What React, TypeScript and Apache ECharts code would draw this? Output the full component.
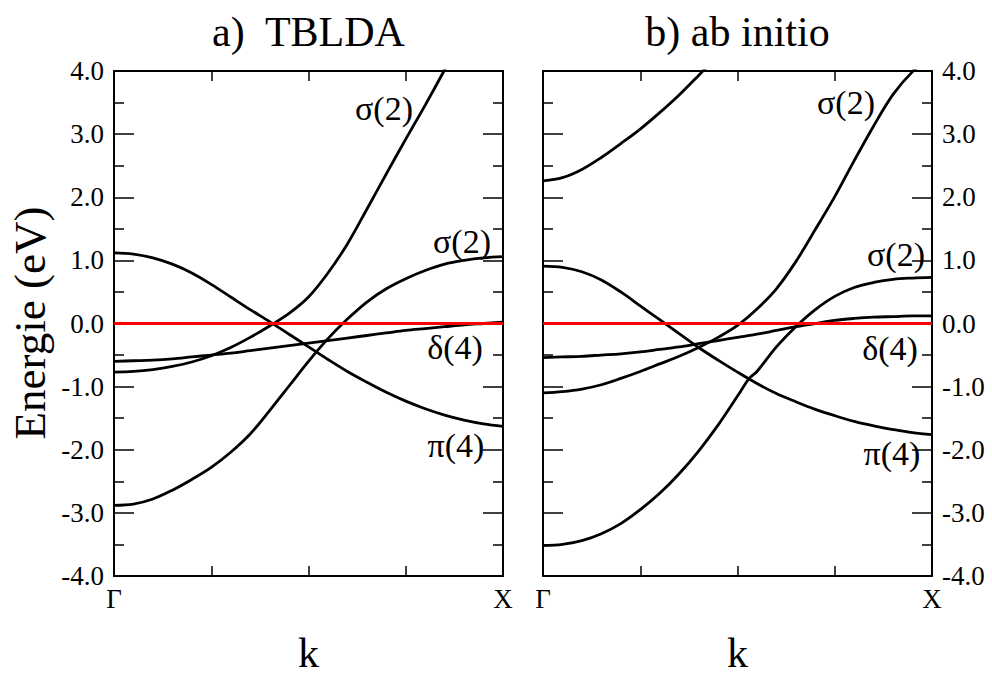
import React, { useEffect, useRef } from 'react';
import * as echarts from 'echarts';

// ---- Data (k along Γ→X, 0..1; energy in eV) ----
const panelTitles = ['a)\u00A0 TBLDA', 'b) ab initio'];
const kEdgeLabels = ['Γ', 'X'];
const energyRange = [-4, 4];

// a) TBLDA bands
const tbSigmaUpper = [
  [0, -0.77], [0.05, -0.76], [0.1, -0.73], [0.15, -0.68], [0.2, -0.61], [0.25, -0.51],
  [0.3, -0.38], [0.35, -0.22], [0.4, -0.04], [0.45, 0.16], [0.5, 0.42], [0.55, 0.8],
  [0.6, 1.26], [0.65, 1.81], [0.7, 2.37], [0.75, 2.92], [0.8, 3.46], [0.85, 4.02], [0.9, 4.6],
];
const tbSigmaLower = [
  [0, -2.88], [0.05, -2.86], [0.1, -2.78], [0.15, -2.64], [0.2, -2.47], [0.25, -2.28],
  [0.3, -2.04], [0.35, -1.75], [0.4, -1.38], [0.45, -0.99], [0.5, -0.6], [0.55, -0.24],
  [0.6, 0.07], [0.65, 0.34], [0.7, 0.55], [0.75, 0.71], [0.8, 0.84], [0.85, 0.94],
  [0.9, 1.0], [0.95, 1.04], [1, 1.06],
];
const tbDelta = [
  [0, -0.6], [0.05, -0.59], [0.1, -0.58], [0.15, -0.56], [0.2, -0.53], [0.25, -0.5],
  [0.3, -0.47], [0.35, -0.43], [0.4, -0.39], [0.45, -0.35], [0.5, -0.31], [0.55, -0.27],
  [0.6, -0.23], [0.65, -0.19], [0.7, -0.15], [0.75, -0.11], [0.8, -0.08], [0.85, -0.05],
  [0.9, -0.02], [0.95, 0.0], [1, 0.02],
];
const tbPi = [
  [0, 1.12], [0.05, 1.1], [0.1, 1.04], [0.15, 0.94], [0.2, 0.8], [0.25, 0.62],
  [0.3, 0.42], [0.35, 0.22], [0.4, 0.03], [0.45, -0.17], [0.5, -0.37], [0.55, -0.57],
  [0.6, -0.76], [0.65, -0.93], [0.7, -1.09], [0.75, -1.23], [0.8, -1.35], [0.85, -1.45],
  [0.9, -1.53], [0.95, -1.59], [1, -1.63],
];

// b) ab initio bands
const aiTop = [
  [0, 2.26], [0.05, 2.31], [0.1, 2.44], [0.15, 2.63], [0.2, 2.85], [0.25, 3.08],
  [0.3, 3.34], [0.35, 3.62], [0.4, 3.93], [0.45, 4.25],
];
const aiSigmaUpper = [
  [0, -1.1], [0.05, -1.08], [0.1, -1.04], [0.15, -0.97], [0.2, -0.87], [0.25, -0.76],
  [0.3, -0.64], [0.35, -0.52], [0.4, -0.38], [0.45, -0.22], [0.5, -0.03], [0.55, 0.23],
  [0.6, 0.55], [0.65, 0.98], [0.7, 1.49], [0.75, 2.01], [0.8, 2.58], [0.85, 3.13],
  [0.9, 3.63], [0.95, 3.99], [1, 4.25],
];
const aiSigmaLower = [
  [0, -3.52], [0.05, -3.5], [0.1, -3.44], [0.15, -3.33], [0.2, -3.17], [0.25, -2.95],
  [0.3, -2.69], [0.35, -2.38], [0.4, -2.02], [0.45, -1.61], [0.5, -1.15], [0.525, -0.91],
  [0.535, -0.84], [0.55, -0.76], [0.6, -0.37], [0.65, -0.05], [0.7, 0.22], [0.75, 0.43],
  [0.8, 0.57], [0.85, 0.65], [0.9, 0.7], [0.95, 0.72], [1, 0.73],
];
const aiDelta = [
  [0, -0.54], [0.05, -0.53], [0.1, -0.52], [0.15, -0.5], [0.2, -0.48], [0.25, -0.45],
  [0.3, -0.41], [0.35, -0.37], [0.4, -0.32], [0.45, -0.27], [0.5, -0.22], [0.55, -0.17],
  [0.6, -0.11], [0.65, -0.05], [0.7, 0.0], [0.75, 0.05], [0.8, 0.08], [0.85, 0.1],
  [0.9, 0.11], [0.95, 0.12], [1, 0.12],
];
const aiPi = [
  [0, 0.91], [0.05, 0.89], [0.1, 0.82], [0.15, 0.69], [0.2, 0.5], [0.25, 0.28],
  [0.3, 0.06], [0.35, -0.16], [0.4, -0.38], [0.45, -0.58], [0.5, -0.77], [0.55, -0.95],
  [0.6, -1.11], [0.65, -1.24], [0.7, -1.36], [0.75, -1.46], [0.8, -1.55], [0.85, -1.62],
  [0.9, -1.68], [0.95, -1.73], [1, -1.76],
];
const fermiLevel = [[0, 0], [1, 0]];

const tbBands = [tbSigmaUpper, tbSigmaLower, tbDelta, tbPi];
const aiBands = [aiTop, aiSigmaUpper, aiSigmaLower, aiDelta, aiPi];

const bandLabels = [
  ['σ(2)', 'σ(2)', 'δ(4)', 'π(4)'],
  ['σ(2)', 'σ(2)', 'δ(4)', 'π(4)'],
];

const FONT = '"Liberation Serif", "Times New Roman", Times, serif';

export default function App() {
  const ref = useRef<HTMLDivElement>(null);

  useEffect(() => {
    document.body.style.margin = '0';
    if (!ref.current) return;
    const chart = echarts.init(ref.current, undefined, { renderer: 'svg' });

    const grids = [
      { left: 114, top: 71, width: 389, height: 505 },
      { left: 543, top: 71, width: 389, height: 505 },
    ];

    const tickStyle = { color: '#000', width: 1.5 };
    const lineStyle = { color: '#000', width: 2 };

    const xAxis: any[] = [];
    const yAxis: any[] = [];
    grids.forEach((_, gi) => {
      ['bottom', 'top'].forEach((pos) => {
        xAxis.push({
          type: 'value', gridIndex: gi, position: pos, min: 0, max: 1, interval: 0.25,
          axisLine: { show: true, onZero: false, lineStyle },
          axisTick: { show: true, inside: true, length: 10, lineStyle: tickStyle },
          splitLine: { show: false },
          axisLabel: {
            show: pos === 'bottom', margin: 9, color: '#000', fontFamily: FONT, fontSize: 27,
            verticalAlign: 'top',
            formatter: (v: number) => (v === 0 ? kEdgeLabels[0] : v === 1 ? kEdgeLabels[1] : ''),
          },
        });
      });
      ['left', 'right'].forEach((pos) => {
        const showLab = (gi === 0 && pos === 'left') || (gi === 1 && pos === 'right');
        yAxis.push({
          type: 'value', gridIndex: gi, position: pos, min: energyRange[0], max: energyRange[1], interval: 1,
          axisLine: { show: true, onZero: false, lineStyle },
          axisTick: { show: true, inside: true, length: 20, lineStyle: tickStyle },
          minorTick: { show: true, splitNumber: 2, length: 10, lineStyle: tickStyle },
          splitLine: { show: false },
          minorSplitLine: { show: false },
          axisLabel: {
            show: showLab, margin: 10, color: '#000', fontFamily: FONT, fontSize: 27,
            formatter: (v: number) => v.toFixed(1),
          },
        });
      });
    });

    const series: any[] = [];
    [tbBands, aiBands].forEach((bands, gi) => {
      bands.forEach((b) => {
        series.push({
          type: 'line', xAxisIndex: gi * 2, yAxisIndex: gi * 2, data: b,
          showSymbol: false, smooth: 0.35, clip: true,
          lineStyle: { color: '#000', width: 2.8 },
          silent: true,
        });
      });
      series.push({
        type: 'line', xAxisIndex: gi * 2, yAxisIndex: gi * 2, data: fermiLevel,
        showSymbol: false, lineStyle: { color: '#ff0000', width: 3 }, silent: true,
      });
    });

    const labelPos = [
      [[384, 108], [462, 241], [455, 347], [456, 445]],
      [[846, 102], [896, 254], [890, 348], [892, 453]],
    ];
    const graphics: any[] = [];
    bandLabels.forEach((labs, gi) => {
      labs.forEach((t, i) => {
        graphics.push({
          type: 'text', x: labelPos[gi][i][0], y: labelPos[gi][i][1],
          style: { text: t, fontSize: 34, fontFamily: FONT, fill: '#000', align: 'center', verticalAlign: 'middle' },
        });
      });
    });
    const centers = [114 + 389 / 2, 543 + 389 / 2];
    panelTitles.forEach((t, gi) => {
      graphics.push({
        type: 'text', x: centers[gi], y: 32,
        style: { text: t, fontSize: 42, fontFamily: FONT, fill: '#000', align: 'center', verticalAlign: 'middle' },
      });
      graphics.push({
        type: 'text', x: centers[gi], y: 653,
        style: { text: 'k', fontSize: 42, fontFamily: FONT, fill: '#000', align: 'center', verticalAlign: 'middle' },
      });
    });
    graphics.push({
      type: 'text', x: 30, y: 323, rotation: Math.PI / 2,
      style: { text: 'Energie (eV)', fontSize: 45, fontFamily: FONT, fill: '#000', align: 'center', verticalAlign: 'middle' },
    });

    chart.setOption({
      animation: false,
      backgroundColor: '#fff',
      grid: grids,
      xAxis,
      yAxis,
      series,
      graphic: graphics,
    });

    return () => chart.dispose();
  }, []);

  return <div ref={ref} style={{ width: 992, height: 675 }} />;
}
